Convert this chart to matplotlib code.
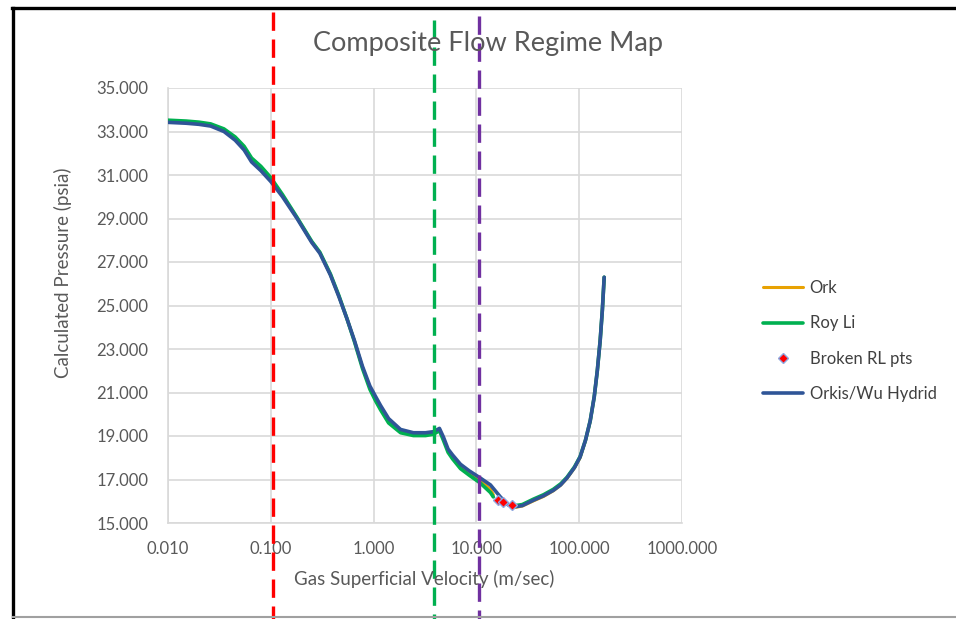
import numpy as np
import matplotlib.pyplot as plt
from matplotlib.ticker import FuncFormatter, FixedLocator, NullLocator
from matplotlib.transforms import blended_transform_factory
from matplotlib.lines import Line2D

plt.rcParams['font.family'] = ['Lato', 'DejaVu Sans']

# Orkis/Wu hybrid curve
hyb_x = [0.01, 0.015, 0.02, 0.026, 0.035, 0.045, 0.055, 0.065, 0.08, 0.1,
         0.13, 0.18, 0.25, 0.3, 0.38, 0.46, 0.55, 0.65, 0.78, 0.92,
         1.05, 1.17, 1.4, 1.83, 2.44, 3.2, 3.83, 4.37, 4.78, 5.3,
         5.86, 7.0, 8.5, 10.9, 13.7, 17.1, 20.4, 24, 28, 36,
         45, 56, 66, 76, 90, 102, 115, 128, 140, 150,
         160, 168, 175]
hyb_y = [33.42, 33.38, 33.33, 33.25, 33.0, 32.6, 32.15, 31.6, 31.2, 30.7,
         30.0, 29.0, 27.9, 27.4, 26.4, 25.4, 24.4, 23.4, 22.2, 21.3,
         20.8, 20.4, 19.8, 19.3, 19.15, 19.15, 19.2, 19.35, 18.95, 18.4,
         18.13, 17.7, 17.4, 17.07, 16.75, 16.2, 15.83, 15.75, 15.8, 16.05,
         16.25, 16.5, 16.75, 17.07, 17.55, 18.03, 18.8, 19.7, 20.8, 22.0,
         23.4, 24.8, 26.3]

# Roy Li curve (gap where the broken points sit)
roy_x = [0.01, 0.015, 0.02, 0.026, 0.035, 0.045, 0.055, 0.065, 0.08, 0.1,
         0.13, 0.18, 0.25, 0.3, 0.38, 0.46, 0.55, 0.65, 0.78, 0.92,
         1.05, 1.17, 1.4, 1.83, 2.44, 3.2, 3.83, 4.37, 4.78, 5.3,
         5.86, 7.0, 8.5, 10.9, 13.7, 14.6, 18, 24, 28, 36,
         45, 56, 66, 76, 90, 102, 115, 128, 140, 150,
         160, 168, 175]
roy_y = [33.52, 33.48, 33.43, 33.35, 33.12, 32.75, 32.32, 31.78, 31.4, 30.88,
         30.1, 29.05, 27.95, 27.45, 26.45, 25.45, 24.4, 23.35, 22.1, 21.15,
         20.6, 20.2, 19.6, 19.15, 19.02, 19.02, 19.08, 19.25, 18.8, 18.25,
         17.95, 17.5, 17.2, 16.84, 16.4, 16.2, np.nan, 15.8, 15.85, 16.1,
         16.3, 16.55, 16.8, 17.1, 17.58, 18.05, 18.8, 19.7, 20.8, 22.0,
         23.4, 24.8, 26.3]

# Ork curve (mostly hidden below the other two)
ork_x = roy_x
ork_y = [33.48, 33.44, 33.39, 33.31, 33.08, 32.7, 32.26, 31.72, 31.33, 30.82,
         30.06, 29.03, 27.93, 27.43, 26.42, 25.42, 24.4, 23.38, 22.15, 21.22,
         20.7, 20.3, 19.7, 19.22, 19.08, 19.08, 19.14, 19.3, 18.88, 18.32,
         18.03, 17.6, 17.3, 16.95, 16.55, 16.3, np.nan, 15.72, 15.78, 16.02,
         16.22, 16.48, 16.74, 17.05, 17.53, 18.0, 18.78, 19.68, 20.8, 22.0,
         23.4, 24.8, 26.3]

broken_x = [16.3, 18.3, 22.3]
broken_y = [16.06, 15.97, 15.83]

regime_x = [0.105, 3.9, 10.5]
regime_colors = ['#FF0000', '#00B050', '#7030A0']
regime_top = [12, 20, 16]  # pixel row where each marker line starts

fig = plt.figure(figsize=(9.56, 6.19), dpi=100)
W, H = 956, 619
ax = fig.add_axes([168 / W, 1 - 523 / H, (682 - 168) / W, (523 - 88) / H])

style = dict(solid_joinstyle='round', solid_capstyle='round')
ax.plot(ork_x, ork_y, color='#E8A202', lw=2.2, label='Ork', zorder=3, **style)
ax.plot(roy_x, roy_y, color='#00B050', lw=2.6, label='Roy Li', zorder=4, **style)
ax.plot(broken_x, broken_y, ls='none', marker='D', ms=5.5, mfc='#FF0000',
        mec='#8FA8E0', mew=1.0, label='Broken RL pts', zorder=6)
ax.plot(hyb_x, hyb_y, color='#2F5597', lw=2.6, label='Orkis/Wu Hydrid', zorder=5, **style)

ax.set_xscale('log')
ax.set_xlim(0.01, 1000)
ax.set_ylim(15, 35)
ax.xaxis.set_major_locator(FixedLocator([0.01, 0.1, 1, 10, 100, 1000]))
ax.xaxis.set_minor_locator(NullLocator())
ax.set_yticks(np.arange(15, 36, 2))
fmt = FuncFormatter(lambda v, p: f"{v:.3f}")
ax.xaxis.set_major_formatter(fmt)
ax.yaxis.set_major_formatter(fmt)
ax.tick_params(length=0, labelsize=12, colors='#595959')
ax.tick_params(axis='y', pad=14)
ax.tick_params(axis='x', pad=13)
ax.grid(True, color='#D9D9D9', lw=1.2)
for s in ['top', 'right']:
    ax.spines[s].set_visible(False)
for s in ['left', 'bottom']:
    ax.spines[s].set_color('#D9D9D9')
    ax.spines[s].set_linewidth(1.2)

fig.text(424 / W, 1 - 579 / H, 'Gas Superficial Velocity (m/sec)', ha='center',
         va='center', fontsize=13.5, color='#595959')
fig.text(63 / W, 1 - 273 / H, 'Calculated Pressure (psia)', ha='center',
         va='center', rotation=90, fontsize=13.5, color='#595959')
fig.text(488 / W, 1 - 44 / H, 'Composite Flow Regime Map', ha='center',
         va='center', fontsize=19.5, color='#595959')

# regime boundary dashed lines, spanning the whole picture height
trans = blended_transform_factory(ax.transData, fig.transFigure)
for xv, c, top in zip(regime_x, regime_colors, regime_top):
    ax.plot([xv, xv], [1 - top / H, 0], transform=trans, color=c, lw=2.4,
            dashes=(5.5, 2.6), clip_on=False, zorder=7)

ax.legend(loc='center left', bbox_to_anchor=(763 / W, 1 - 341 / H),
          bbox_transform=fig.transFigure, frameon=False, fontsize=12,
          labelspacing=1.15, handlelength=2.4, handletextpad=0.4,
          borderpad=0, borderaxespad=0, labelcolor='#404040')

# picture frame
fig.add_artist(Line2D([12 / W, 1], [1 - 8 / H, 1 - 8 / H], color='black', lw=2.4))
fig.add_artist(Line2D([13 / W, 13 / W], [1 - 8 / H, 0], color='black', lw=2.4))
fig.add_artist(Line2D([13 / W, 1], [1 - 617 / H, 1 - 617 / H], color='#A0A0A0', lw=1.5))

fig.savefig('out.png', dpi=100)
